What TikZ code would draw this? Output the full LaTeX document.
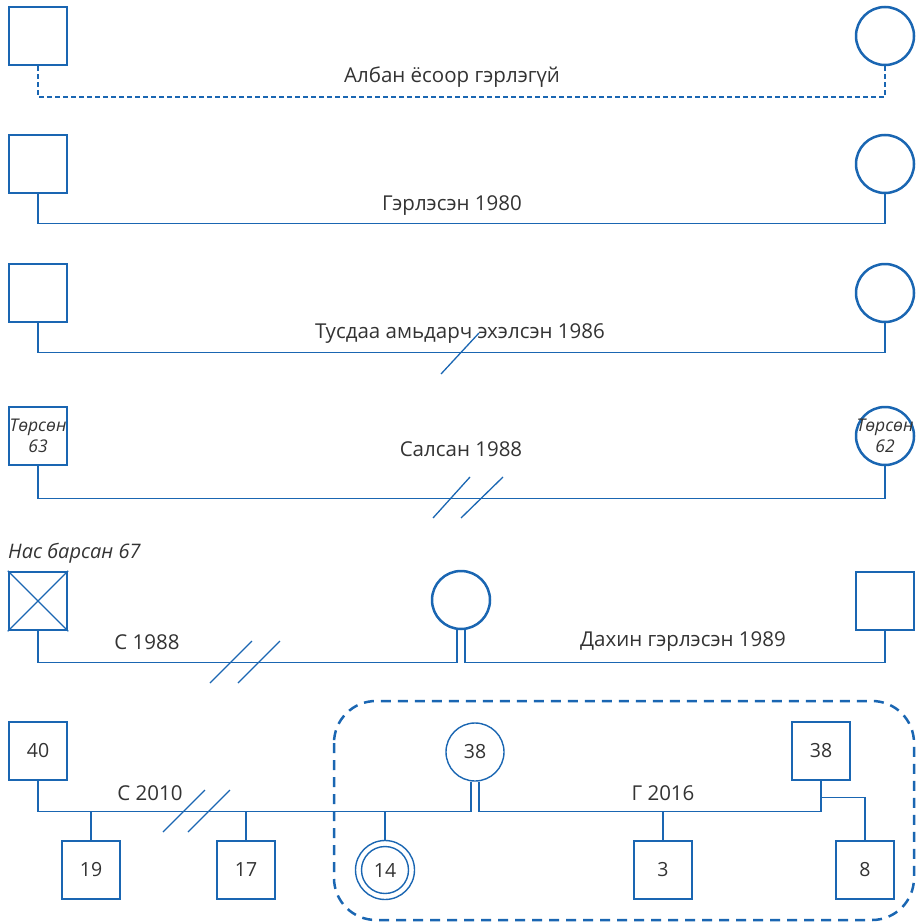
\documentclass[tikz,border=0pt]{standalone}
\usepackage{fontspec}
\setmainfont{Open Sans}
\usepackage{tikz}
\usetikzlibrary{positioning}
\definecolor{genblue}{HTML}{1A66B2}
\definecolor{gentext}{HTML}{333333}

\tikzset{
  male/.style={draw=genblue, line width=2.5pt, rectangle, minimum size=58pt, inner sep=0pt, text=gentext},
  female/.style={draw=genblue, line width=2.5pt, circle, minimum size=58pt, inner sep=0pt, text=gentext},
  thinbox/.style={line width=1.4pt},
  link/.style={draw=genblue, line width=1.5pt},
  cut/.style={draw=genblue, line width=1.3pt},
  lbl/.style={text=gentext, font=\fontsize{20.5}{24}\selectfont, inner sep=0pt},
  age/.style={font=\fontsize{19.5}{23}\selectfont},
  born/.style={text=gentext, inner sep=0pt, font=\itshape\fontsize{17.5}{21}\selectfont, align=center}
}

\begin{document}
\begin{tikzpicture}[x=1pt,y=-1pt]
    \useasboundingbox (0,0) rectangle (918,923);

    % row 1: not married
    \node[male] (m1) at (38,36) {};
    \node[female] (f1) at (885,36) {};
    \draw[link, dash pattern=on 5pt off 3pt] (m1.south) -- ++(0,31) -| (f1.south);
    \node[lbl] (l1) at (452,77) {Албан ёсоор гэрлэгүй};

    % row 2: married
    \node[male] (m2) at (38,164) {};
    \node[female] (f2) at (885,164) {};
    \draw[link] (m2.south) -- ++(0,29) -| (f2.south);
    \node[lbl] (l2) at (452,206) {Гэрлэсэн 1980};

    % row 3: separated
    \node[male] (m3) at (38,293) {};
    \node[female] (f3) at (885,293) {};
    \draw[link] (m3.south) -- ++(0,29) -| (f3.south);
    \node[lbl] (l3) at (460,334) {Тусдаа амьдарч эхэлсэн 1986};
    \draw[cut] (441,374) -- (479,333);

    % row 4: divorced
    \node[male] (m4) at (38,436) {};
    \node[born] (t4) at (m4.center) {Төрсөн\\63};
    \node[female] (f4) at (885,436) {};
    \node[born] (u4) at (f4.center) {Төрсөн\\62};
    \draw[link] (m4.south) -- ++(0,32) -| (f4.south);
    \node[lbl] (l4) at (461,449) {Салсан 1988};
    \draw[cut] (433,518) -- (470,477);
    \draw[cut] (461,518) -- (503,477);

    % row 5: deceased, divorced, remarried
    \node[lbl, font=\itshape\fontsize{20}{24}\selectfont, anchor=west] (l5) at (8,553) {Нас барсан 67};
    \node[male] (m5) at (38,601) {};
    \draw[cut] (m5.north west) -- (m5.south east);
    \draw[cut] (m5.south west) -- (m5.north east);
    \node[female] (f5) at (461,600) {};
    \node[male] (n5) at (885,601) {};
    \draw[link] (m5.south) -- ++(0,31) -| ([xshift=-4pt]f5.south);
    \draw[link] ([xshift=4pt]f5.south) -- ++(0,32) -| (n5.south);
    \node[lbl] (l6) at (147,642) {С 1988};
    \node[lbl] (l7) at (683,642) {Дахин гэрлэсэн 1989};
    \draw[cut] (210,683) -- (252,641);
    \draw[cut] (238,683) -- (280,641);

    % row 6: family with children
    \draw[genblue, line width=2.5pt, dash pattern=on 10pt off 7pt, rounded corners=42pt]
      (334,701) rectangle (914,920);
    \node[male, thinbox, age] (a40) at (38,751) {40};
    \node[female, thinbox, age] (a38) at (475,752) {38};
    \node[male, thinbox, age] (b38) at (821,751) {38};
    \node[male, thinbox, age] (c19) at (91,870) {19};
    \node[male, thinbox, age] (c17) at (246,870) {17};
    \node[female, thinbox, age, minimum size=47pt] (c14) at (385,870) {14};
    \draw[genblue, line width=1.4pt] (c14.center) circle (29.5);
    \node[male, thinbox, age] (c3) at (663,870) {3};
    \node[male, thinbox, age] (c8) at (865,870) {8};

    \draw[link] (a40.south) -- ++(0,31) coordinate (s1) -| ([xshift=-4pt]a38.south);
    \draw[link] ([xshift=4pt]a38.south) -- ++(0,30) -| (b38.south);
    \draw[link] (c19.north) -- (c19.north |- s1);
    \draw[link] (c17.north) -- (c17.north |- s1);
    \draw[link] (c14.north) ++(0,-6) -- (c14.north |- s1);
    \draw[link] (c3.north) -- (c3.north |- s1);
    \draw[link] ([yshift=-17pt]b38.south) -| (c8.north);
    \node[lbl] (l8) at (150,793) {С 2010};
    \node[lbl] (l9) at (663,793) {Г 2016};
    \draw[cut] (163,832) -- (205,790);
    \draw[cut] (188,832) -- (230,790);
\end{tikzpicture}
\end{document}
